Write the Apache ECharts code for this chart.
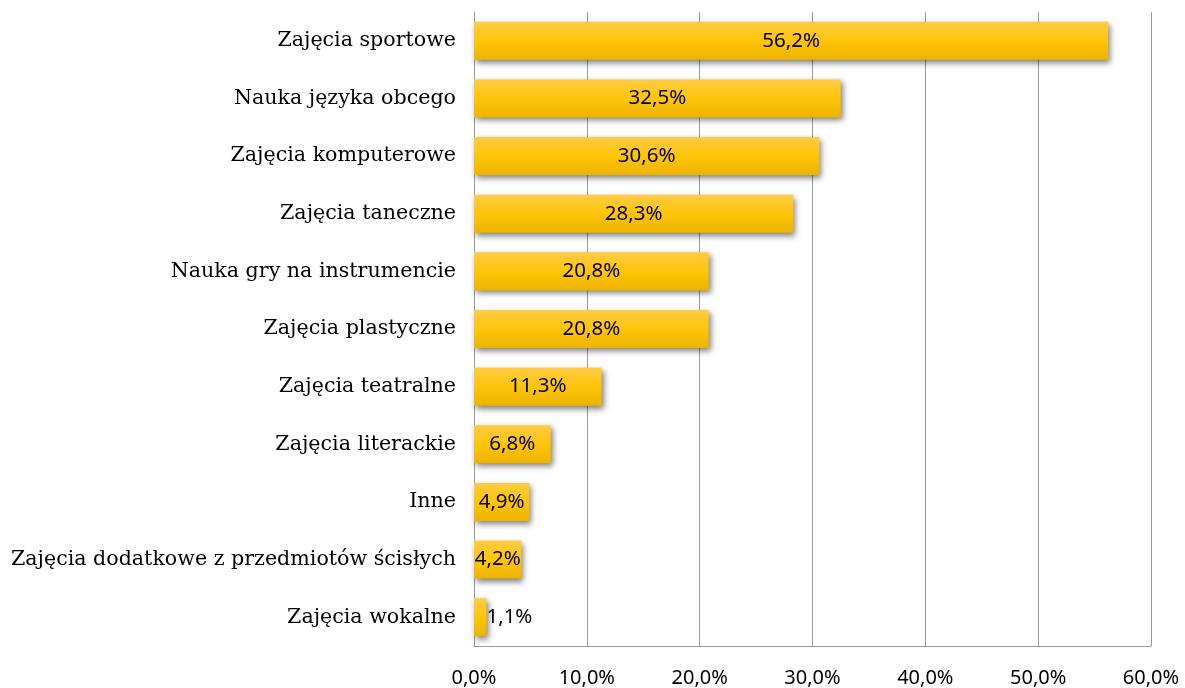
<!DOCTYPE html>
<html>
<head>
<meta charset="utf-8">
<script src="https://cdn.jsdelivr.net/npm/echarts@6/dist/echarts.min.js"></script>
<style>
  html, body { margin: 0; padding: 0; background: #fff; }
  #chart { width: 1185px; height: 688px; }
</style>
</head>
<body>
<div id="chart"></div>
<script>
// Forms of extracurricular activity, share of answers (%)
const categories = [
  'Zajęcia sportowe',
  'Nauka języka obcego',
  'Zajęcia komputerowe',
  'Zajęcia taneczne',
  'Nauka gry na instrumencie',
  'Zajęcia plastyczne',
  'Zajęcia teatralne',
  'Zajęcia literackie',
  'Inne',
  'Zajęcia dodatkowe z przedmiotów ścisłych',
  'Zajęcia wokalne'
];
const values = [56.2, 32.5, 30.6, 28.3, 20.8, 20.8, 11.3, 6.8, 4.9, 4.2, 1.1];
const axisTicks = [0, 10, 20, 30, 40, 50, 60];

const fmt = v => v.toFixed(1).replace('.', ',') + '%';

const barFill = new echarts.graphic.LinearGradient(0, 0, 0, 1, [
  { offset: 0, color: '#FFCB45' },
  { offset: 0.5, color: '#FFC508' },
  { offset: 1, color: '#EDB300' }
]);

const chart = echarts.init(document.getElementById('chart'));
chart.setOption({
  animation: false,
  grid: { left: 474, right: 34, top: 12, bottom: 39, containLabel: false },
  xAxis: {
    type: 'value',
    min: axisTicks[0],
    max: axisTicks[axisTicks.length - 1],
    interval: 10,
    axisLine: { show: true, lineStyle: { color: '#9a9a9a', width: 1 } },
    axisTick: { show: false },
    axisLabel: {
      margin: 22,
      color: '#000',
      fontFamily: 'Noto Sans',
      fontSize: 20,
      formatter: v => fmt(v)
    },
    splitLine: { show: true, lineStyle: { color: '#9a9a9a', width: 1 } }
  },
  yAxis: {
    type: 'category',
    data: categories,
    inverse: true,
    axisLine: { show: true, lineStyle: { color: '#9a9a9a', width: 1 } },
    axisTick: { show: false },
    axisLabel: {
      margin: 18,
      color: '#000',
      fontFamily: 'DejaVu Serif',
      fontSize: 20.6
    }
  },
  series: [{
    type: 'bar',
    data: values.map((v, i) => (i === values.length - 1)
      ? { value: v, label: { position: 'right', distance: 0 } }
      : v),
    barCategoryGap: '34%',
    itemStyle: {
      color: barFill,
      shadowColor: 'rgba(0,0,0,0.5)',
      shadowBlur: 6,
      shadowOffsetX: 2,
      shadowOffsetY: 3
    },
    label: {
      show: true,
      position: 'inside',
      color: '#000',
      fontFamily: 'Noto Sans',
      fontSize: 20.5,
      formatter: p => fmt(p.value)
    }
  }]
});
</script>
</body>
</html>
